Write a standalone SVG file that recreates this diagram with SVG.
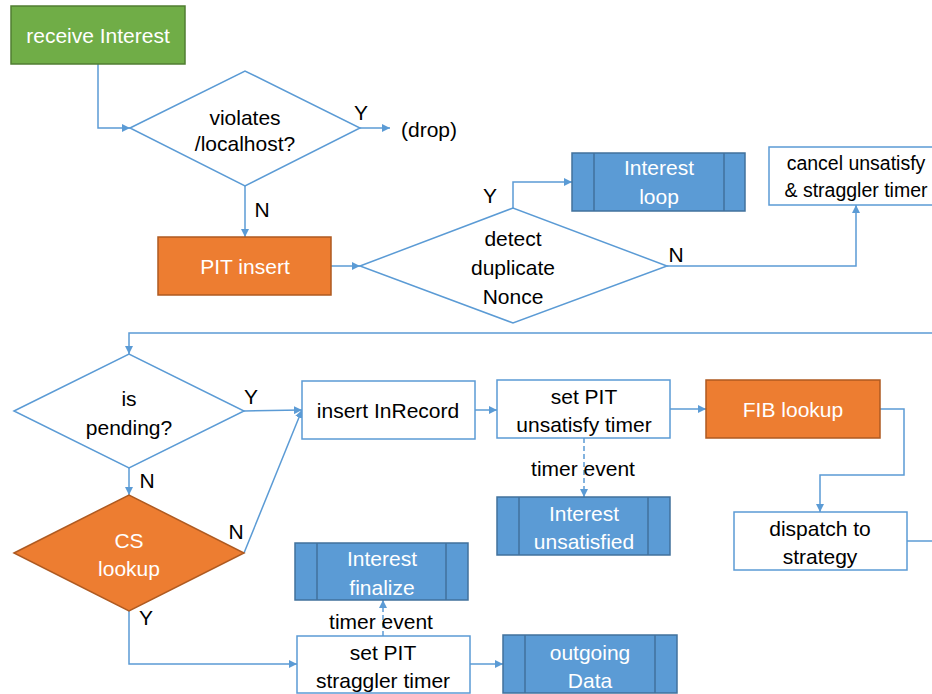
<svg xmlns="http://www.w3.org/2000/svg" width="932" height="694" viewBox="0 0 932 694">
<defs>
<marker id="arr" viewBox="0 0 10 10" refX="10" refY="5" markerWidth="8" markerHeight="8" markerUnits="userSpaceOnUse" orient="auto">
<path d="M0,0 L10,5 L0,10 z" fill="#5B9BD5"/>
</marker>
<style>
text{font-family:"Liberation Sans",Arial,sans-serif;font-size:21px;text-anchor:middle;dominant-baseline:central;fill:#000}
.w{fill:#fff}
.s{font-size:19.5px}
.plain{fill:#fff;stroke:#5B9BD5;stroke-width:1.5}
.green{fill:#70AD47;stroke:#507E32;stroke-width:1.5}
.orange{fill:#ED7D31;stroke:#AE5A21;stroke-width:1.5}
.blue{fill:#5B9BD5;stroke:#41719C;stroke-width:1.5}
.dia{fill:#fff;stroke:#5B9BD5;stroke-width:1.5}
.c{fill:none;stroke:#5B9BD5;stroke-width:1.5;marker-end:url(#arr)}
.n{fill:none;stroke:#5B9BD5;stroke-width:1.5}
.d{fill:none;stroke:#5B9BD5;stroke-width:1.5;stroke-dasharray:5,3;marker-end:url(#arr)}
</style>
</defs>
<rect width="932" height="694" fill="#fff"/>

<g id="connectors">
<polyline class="c" points="98,64 98,128 130,128"/>
<line class="c" x1="360" y1="128" x2="390" y2="128"/>
<line class="c" x1="245" y1="186" x2="245" y2="237"/>
<line class="c" x1="331" y1="266" x2="360" y2="266"/>
<polyline class="c" points="513,208 513,182 572,182"/>
<polyline class="c" points="667,266 856,266 856,205"/>
<polyline class="c" points="932,333 129,333 129,354"/>
<line class="c" x1="244" y1="411" x2="302" y2="410"/>
<line class="c" x1="129" y1="468" x2="129" y2="495"/>
<line class="c" x1="244" y1="553" x2="302" y2="410"/>
<polyline class="c" points="129,611 129,664 297,664"/>
<line class="c" x1="475" y1="410" x2="497" y2="410"/>
<line class="c" x1="670" y1="409" x2="706" y2="409"/>
<polyline class="c" points="880,409 904,409 904,475 820,475 820,512"/>
<line class="n" x1="907" y1="541" x2="932" y2="541"/>
<line class="d" x1="584" y1="438" x2="584" y2="497"/>
<line class="d" x1="383" y1="636" x2="383" y2="600"/>
<line class="c" x1="470" y1="664" x2="503" y2="664"/>
</g>

<g id="receive-interest">
<rect class="green" x="11" y="6" width="174" height="58"/>
<text class="w" x="98" y="35">receive Interest</text>
</g>

<g id="violates-localhost">
<polygon class="dia" points="130,128 245,71 360,128 245,186"/>
<text x="245" y="117">violates</text>
<text x="245" y="143">/localhost?</text>
<text x="361" y="112">Y</text>
<text x="262" y="209">N</text>
</g>

<g id="drop">
<text x="429" y="129">(drop)</text>
</g>

<g id="pit-insert">
<rect class="orange" x="158" y="237" width="173" height="58"/>
<text class="w" x="245" y="266">PIT insert</text>
</g>

<g id="detect-duplicate-nonce">
<polygon class="dia" points="360,266 513,208 667,266 513,323"/>
<text x="513" y="238">detect</text>
<text x="513" y="267">duplicate</text>
<text x="513" y="296">Nonce</text>
<text x="490" y="195">Y</text>
<text x="676" y="254">N</text>
</g>

<g id="interest-loop">
<rect class="blue" x="572" y="153" width="173" height="58"/>
<line x1="594" y1="153" x2="594" y2="211" stroke="#41719C" stroke-width="1.5"/>
<line x1="724" y1="153" x2="724" y2="211" stroke="#41719C" stroke-width="1.5"/>
<text class="w" x="659" y="167">Interest</text>
<text class="w" x="659" y="196">loop</text>
</g>

<g id="cancel-timers">
<rect class="plain" x="769" y="147" width="174" height="58"/>
<text class="s" x="856" y="163">cancel unsatisfy</text>
<text class="s" x="856" y="190">&amp; straggler timer</text>
</g>

<g id="is-pending">
<polygon class="dia" points="14,411 129,354 244,411 129,468"/>
<text x="129" y="398">is</text>
<text x="129" y="427">pending?</text>
<text x="251" y="396">Y</text>
<text x="147" y="480">N</text>
</g>

<g id="cs-lookup">
<polygon class="orange" points="14,553 129,495 244,553 129,611"/>
<text class="w" x="129" y="540">CS</text>
<text class="w" x="129" y="568">lookup</text>
<text x="236" y="531">N</text>
<text x="146" y="617">Y</text>
</g>

<g id="insert-inrecord">
<rect class="plain" x="302" y="381" width="173" height="58"/>
<text x="388" y="410">insert InRecord</text>
</g>

<g id="set-unsatisfy-timer">
<rect class="plain" x="497" y="380" width="173" height="58"/>
<text x="584" y="396">set PIT</text>
<text x="584" y="424">unsatisfy timer</text>
<text x="583" y="468">timer event</text>
</g>

<g id="fib-lookup">
<rect class="orange" x="706" y="380" width="174" height="58"/>
<text class="w" x="793" y="409">FIB lookup</text>
</g>

<g id="interest-unsatisfied">
<rect class="blue" x="497" y="497" width="173" height="58"/>
<line x1="519" y1="497" x2="519" y2="555" stroke="#41719C" stroke-width="1.5"/>
<line x1="648" y1="497" x2="648" y2="555" stroke="#41719C" stroke-width="1.5"/>
<text class="w" x="584" y="513">Interest</text>
<text class="w" x="584" y="541">unsatisfied</text>
</g>

<g id="dispatch-to-strategy">
<rect class="plain" x="734" y="512" width="173" height="58"/>
<text x="820" y="528">dispatch to</text>
<text x="820" y="556">strategy</text>
</g>

<g id="interest-finalize">
<rect class="blue" x="295" y="543" width="173" height="57"/>
<line x1="317" y1="543" x2="317" y2="600" stroke="#41719C" stroke-width="1.5"/>
<line x1="446" y1="543" x2="446" y2="600" stroke="#41719C" stroke-width="1.5"/>
<text class="w" x="382" y="558">Interest</text>
<text class="w" x="382" y="587">finalize</text>
</g>

<g id="set-straggler-timer">
<rect class="plain" x="297" y="636" width="173" height="57"/>
<text x="383" y="652">set PIT</text>
<text x="383" y="680">straggler timer</text>
<text x="381" y="621">timer event</text>
</g>

<g id="outgoing-data">
<rect class="blue" x="503" y="635" width="174" height="58"/>
<line x1="525" y1="635" x2="525" y2="693" stroke="#41719C" stroke-width="1.5"/>
<line x1="655" y1="635" x2="655" y2="693" stroke="#41719C" stroke-width="1.5"/>
<text class="w" x="590" y="652">outgoing</text>
<text class="w" x="590" y="680">Data</text>
</g>
</svg>
